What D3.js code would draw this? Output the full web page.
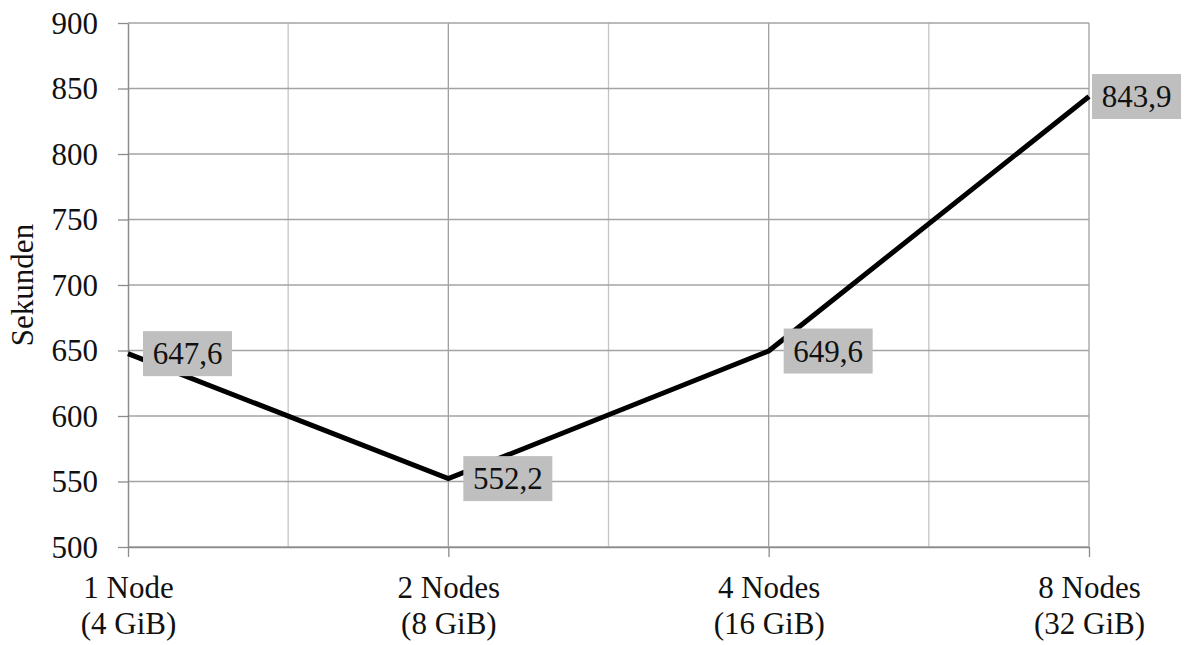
<!DOCTYPE html>
<html>
<head>
<meta charset="utf-8">
<script src="https://cdn.jsdelivr.net/npm/d3@7"></script>
<style>
  body { margin: 0; background: #fff; }
  svg text { font-family: "Liberation Serif", "Times New Roman", Tinos, "DejaVu Serif", serif !important; fill: #111; }
</style>
</head>
<body>
<svg id="chart" width="1184" height="645"></svg>
<script>
// data
const categories = ['1 Node|(4 GiB)', '2 Nodes|(8 GiB)', '4 Nodes|(16 GiB)', '8 Nodes|(32 GiB)']
const seconds = [647.6, 552.2, 649.6, 843.9]
const yTicks = [500, 550, 600, 650, 700, 750, 800, 850, 900]
const yLabel = 'Sekunden'

const margin = { top: 23, right: 95, bottom: 98, left: 128 }
const width = 1184 - margin.left - margin.right
const height = 645 - margin.top - margin.bottom
const fontSize = 31

const svg = d3.select('#chart')
const g = svg.append('g')
    .attr('transform', `translate(${margin.left}, ${margin.top})`)

// x: categories sit on every other vertical gridline
const x = d3.scaleLinear()
    .domain([0, categories.length - 1])
    .range([0, width])

const y = d3.scaleLinear()
    .domain([500, 900])
    .range([height, 0])

// gridlines
const halfSteps = d3.range(0, categories.length - 0.5, 0.5)
g.append('g').selectAll('line')
    .data(halfSteps.filter(d => d % 1 !== 0))
    .join('line')
    .attr('x1', d => x(d)).attr('x2', d => x(d))
    .attr('y1', 0).attr('y2', height)
    .attr('stroke', '#c4c4c4')
    .attr('stroke-width', 1.3)

g.append('g').selectAll('line')
    .data(d3.range(1, categories.length))
    .join('line')
    .attr('x1', d => x(d)).attr('x2', d => x(d))
    .attr('y1', 0).attr('y2', height)
    .attr('stroke', '#a0a0a0')
    .attr('stroke-width', 1.3)

g.append('g').selectAll('line')
    .data(yTicks)
    .join('line')
    .attr('x1', 0).attr('x2', width)
    .attr('y1', d => y(d)).attr('y2', d => y(d))
    .attr('stroke', '#a3a3a3')
    .attr('stroke-width', 1.3)

// y axis
const yAxis = g.append('g')
    .call(d3.axisLeft(y).tickValues(yTicks).tickSize(10).tickSizeOuter(0).tickPadding(20))
yAxis.attr('font-family', null)
yAxis.select('.domain').attr('stroke', '#8c8c8c').attr('stroke-width', 1.5)
yAxis.selectAll('.tick line').attr('stroke', '#8c8c8c').attr('stroke-width', 1.3)
yAxis.selectAll('text')
    .attr('font-size', fontSize + 'px')
    .attr('fill', '#111')
    .attr('dy', '0.33em')

// x axis
const xAxis = g.append('g')
    .attr('transform', `translate(0, ${height})`)
    .call(d3.axisBottom(x).tickValues(d3.range(categories.length)).tickSize(10).tickSizeOuter(0).tickFormat(''))
xAxis.attr('font-family', null)
xAxis.select('.domain').attr('stroke', '#8c8c8c').attr('stroke-width', 1.5)
xAxis.selectAll('.tick line').attr('stroke', '#8c8c8c').attr('stroke-width', 1.3)

xAxis.selectAll('.tick').each(function (d) {
    const parts = categories[d].split('|')
    const t = d3.select(this).append('text')
        .attr('text-anchor', 'middle')
        .attr('font-size', fontSize + 'px')
        .attr('fill', '#111')
    t.append('tspan').attr('x', 0).attr('y', 51).text(parts[0])
    t.append('tspan').attr('x', 0).attr('y', 87).text(parts[1])
})

// y label
g.append('text')
    .attr('transform', 'rotate(-90)')
    .attr('x', -height / 2)
    .attr('y', -margin.left + 33)
    .attr('text-anchor', 'middle')
    .attr('font-size', fontSize + 'px')
    .text(yLabel)

// line
const line = d3.line()
    .x((d, i) => x(i))
    .y(d => y(d))

g.append('path')
    .datum(seconds)
    .attr('d', line)
    .attr('fill', 'none')
    .attr('stroke', '#000')
    .attr('stroke-width', 5)
    .attr('stroke-linejoin', 'miter')

// data labels
const fmt = v => d3.format('.1f')(v).replace('.', ',')
const boxW = 89, boxH = 45
const labels = g.append('g').selectAll('g')
    .data(seconds)
    .join('g')
    .attr('transform', (d, i) => {
        let bx = x(i) + 15
        bx = Math.min(bx, 1184 - margin.left - boxW - 3)
        return `translate(${bx}, ${y(d) - boxH / 2})`
    })
labels.append('rect')
    .attr('width', boxW)
    .attr('height', boxH)
    .attr('fill', '#bfbfbf')
labels.append('text')
    .attr('x', boxW / 2)
    .attr('y', boxH / 2)
    .attr('dy', '0.34em')
    .attr('text-anchor', 'middle')
    .attr('font-size', fontSize + 'px')
    .text(d => fmt(d))
</script>
</body>
</html>
